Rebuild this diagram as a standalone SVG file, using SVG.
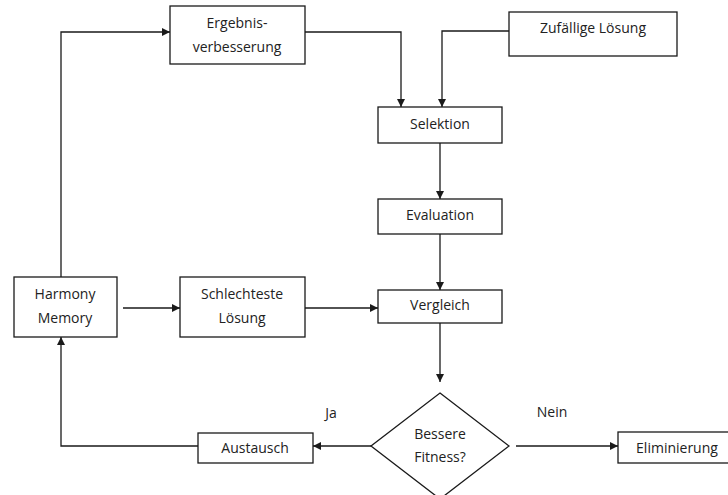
<svg xmlns="http://www.w3.org/2000/svg" width="728" height="495" viewBox="0 0 728 495">
  <defs>
    <marker id="arrow" viewBox="0 0 10 10" refX="10" refY="5" markerWidth="8" markerHeight="8" markerUnits="userSpaceOnUse" orient="auto">
      <path d="M0,0 L10,5 L0,10 Z" fill="#1a1a1a"/>
    </marker>
  </defs>
  <style>
    .box { fill: #ffffff; stroke: #1a1a1a; stroke-width: 1.3; }
    .lbl { font-family: "Open Sans", "Noto Sans", sans-serif; font-size: 14px; fill: #222222; text-anchor: middle; dominant-baseline: central; }
    .edge { fill: none; stroke: #1a1a1a; stroke-width: 1.3; }
    .edge.arr { marker-end: url(#arrow); }
  </style>
  <rect width="728" height="495" fill="#ffffff"/>

  <g id="connectors">
    <!-- Harmony Memory up and over to Ergebnisverbesserung -->
    <path class="edge arr" d="M61,277 L61,32 L170,32"/>
    <!-- Ergebnisverbesserung down to Selektion -->
    <path class="edge arr" d="M305,32 L401,32 L401,107"/>
    <!-- Zufällige Lösung down to Selektion -->
    <path class="edge arr" d="M509,31 L442,31 L442,107"/>
    <!-- main column -->
    <path class="edge arr" d="M440,143 L440,199"/>
    <path class="edge arr" d="M440,234 L440,290"/>
    <path class="edge arr" d="M440,323 L440,382"/>
    <!-- Harmony Memory to Schlechteste Lösung -->
    <path class="edge arr" d="M123,308 L180,308"/>
    <!-- Schlechteste Lösung to Vergleich -->
    <path class="edge arr" d="M305,308 L378,308"/>
    <!-- decision branches -->
    <path class="edge arr" d="M371,446 L313,446"/>
    <path class="edge arr" d="M516,446 L618,446"/>
    <!-- Austausch back to Harmony Memory -->
    <path class="edge arr" d="M198,446 L61,446 L61,337"/>
  </g>

  <g id="ergebnisverbesserung">
    <rect class="box" x="170" y="6" width="135" height="58"/>
    <text class="lbl" x="237" y="22">Ergebnis-</text>
    <text class="lbl" x="237" y="46">verbesserung</text>
  </g>

  <g id="zufaellige-loesung">
    <rect class="box" x="509" y="12" width="168" height="44"/>
    <text class="lbl" x="593" y="27">Zufällige Lösung</text>
  </g>

  <g id="selektion">
    <rect class="box" x="378" y="107" width="124" height="36"/>
    <text class="lbl" x="440" y="123">Selektion</text>
  </g>

  <g id="evaluation">
    <rect class="box" x="378" y="199" width="124" height="35"/>
    <text class="lbl" x="440" y="214">Evaluation</text>
  </g>

  <g id="vergleich">
    <rect class="box" x="378" y="290" width="124" height="33"/>
    <text class="lbl" x="440" y="304">Vergleich</text>
  </g>

  <g id="harmony-memory">
    <rect class="box" x="14" y="277" width="103" height="60"/>
    <text class="lbl" x="65" y="293">Harmony</text>
    <text class="lbl" x="65" y="317">Memory</text>
  </g>

  <g id="schlechteste-loesung">
    <rect class="box" x="180" y="277" width="125" height="60"/>
    <text class="lbl" x="242" y="293">Schlechteste</text>
    <text class="lbl" x="242" y="317">Lösung</text>
  </g>

  <g id="bessere-fitness">
    <polygon class="box" points="440,393 509,446 440,499 371,446"/>
    <text class="lbl" x="440" y="433">Bessere</text>
    <text class="lbl" x="440" y="456">Fitness?</text>
  </g>

  <g id="austausch">
    <rect class="box" x="198" y="433" width="115" height="30"/>
    <text class="lbl" x="255" y="447">Austausch</text>
  </g>

  <g id="eliminierung">
    <rect class="box" x="618" y="432" width="115" height="31"/>
    <text class="lbl" x="677" y="447">Eliminierung</text>
  </g>

  <g id="labels">
    <text class="lbl" x="331" y="412">Ja</text>
    <text class="lbl" x="552" y="411">Nein</text>
  </g>
</svg>
